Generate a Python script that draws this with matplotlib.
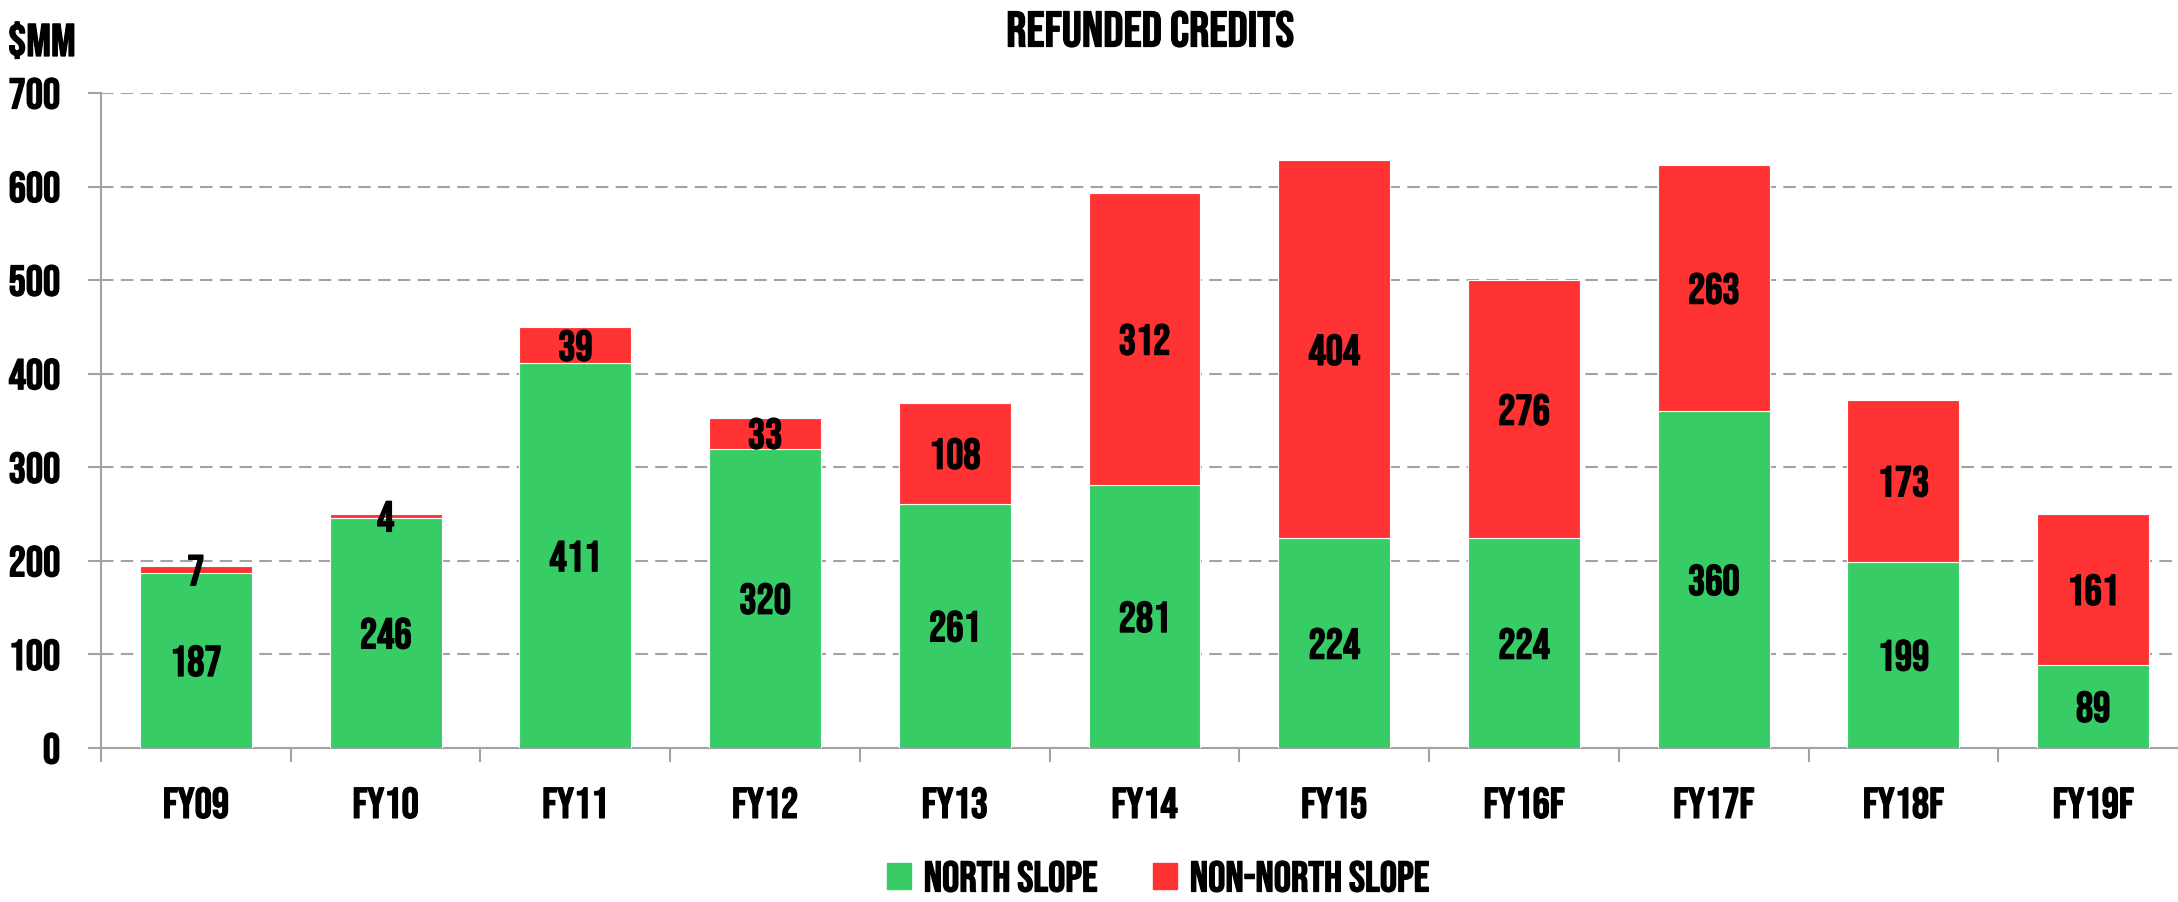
import numpy as np
import matplotlib
matplotlib.use("Agg")
import matplotlib.pyplot as plt
import matplotlib.patheffects as pe
from matplotlib.patches import Patch

# data
years = ["FY09", "FY10", "FY11", "FY12", "FY13", "FY14", "FY15", "FY16F", "FY17F", "FY18F", "FY19F"]
north_slope = [187, 246, 411, 320, 261, 281, 224, 224, 360, 199, 89]
non_north_slope = [7, 4, 39, 33, 108, 312, 404, 276, 263, 173, 161]
yticks = [0, 100, 200, 300, 400, 500, 600, 700]

green = "#37CC66"
red = "#FF3333"
grey = "#A3A3A3"

plt.rcParams["font.family"] = ["Bebas Neue", "DejaVu Sans"]
# thicken the glyphs a little
bold = [pe.withStroke(linewidth=0.9, foreground="black")]

fig = plt.figure(figsize=(21.78, 9.02), dpi=100)
ax = fig.add_axes([101 / 2178, 154 / 902, (2188 - 101) / 2178, 655 / 902])

x = np.arange(len(years))
ax.bar(x, north_slope, width=0.59, color=green, edgecolor="white", linewidth=0.8, zorder=3)
ax.bar(x, non_north_slope, width=0.59, bottom=north_slope, color=red,
       edgecolor="white", linewidth=0.8, zorder=3)

# labels in the middle of each segment
for i in range(len(years)):
    n = north_slope[i]
    r = non_north_slope[i]
    ax.text(x[i], n / 2, str(n), ha="center", va="center", fontsize=31, zorder=4,
            path_effects=bold)
    ax.text(x[i], n + r / 2, str(r), ha="center", va="center", fontsize=31, zorder=4,
            path_effects=bold)

ax.set_xlim(-0.5, 10.5)
ax.set_ylim(0, 700)
ax.set_yticks(yticks)
ax.set_yticklabels([str(v) for v in yticks], fontsize=31)
ax.tick_params(axis="y", length=9.5, width=1.5, color=grey, pad=20)

ax.set_xticks(x)
ax.set_xticklabels(years, fontsize=31)
ax.tick_params(axis="x", which="major", length=0, pad=28)
ax.set_xticks(np.arange(-0.5, 11, 1), minor=True)
ax.tick_params(axis="x", which="minor", length=10, width=1.5, color=grey)
for lab in ax.get_xticklabels() + ax.get_yticklabels():
    lab.set_path_effects(bold)

ax.grid(axis="y", color=grey, linestyle=(0, (6, 3.5)), linewidth=1.5, zorder=0)
for s in ["top", "right"]:
    ax.spines[s].set_visible(False)
for s in ["left", "bottom"]:
    ax.spines[s].set_color(grey)
    ax.spines[s].set_linewidth(1.5)

fig.text(1150 / 2178, 1 - 10 / 902, "REFUNDED CREDITS", ha="center", va="top", fontsize=36,
         path_effects=bold)
fig.text(8 / 2178, 1 - 22 / 902, "$MM", ha="left", va="top", fontsize=33, path_effects=bold)

handles = [Patch(color=green, label="NORTH SLOPE"), Patch(color=red, label="NON-NORTH SLOPE")]
leg = fig.legend(handles=handles, loc="center", bbox_to_anchor=(1158 / 2178, 1 - 876 / 902),
                 ncol=2, frameon=False, fontsize=31, handlelength=0.55, handleheight=0.55,
                 handletextpad=0.3, columnspacing=1.3)
for t in leg.get_texts():
    t.set_path_effects(bold)

plt.savefig("out.png", dpi=100)
